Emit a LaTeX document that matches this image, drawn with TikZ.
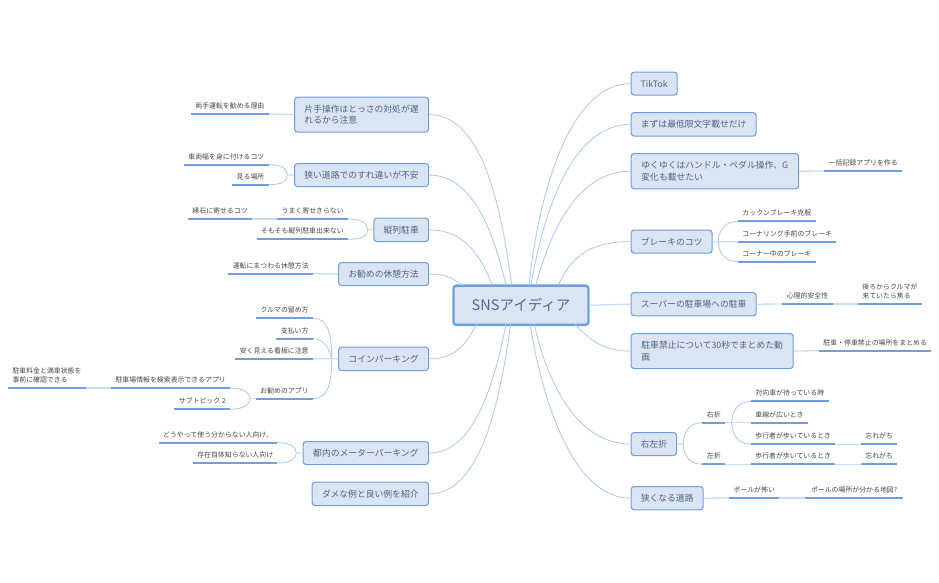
\documentclass[tikz,border=0pt]{standalone}
\usepackage{fontspec}
\setmainfont{Noto Sans CJK JP}
\definecolor{Edge}{HTML}{6F9FDF}
\definecolor{Stem}{HTML}{A9C7EF}
\definecolor{Pale}{HTML}{C8DCF6}
\definecolor{Fill}{HTML}{DAE4F2}
\definecolor{Ink}{HTML}{4F6485}
\definecolor{RootInk}{HTML}{4A6A98}
\definecolor{Gray}{HTML}{454545}
\tikzset{
  rootbox/.style={draw=Edge, fill=Fill, line width=2.4, rounded corners=3, anchor=north west, inner sep=0, xshift=-1, yshift=0.6, text=RootInk, font=\fontsize{14.5}{18}\selectfont},
  topic/.style={draw=Edge, fill=Fill, line width=1.1, rounded corners=3, anchor=north west, inner sep=0, xshift=-0.7, yshift=0.7, align=left, text=Ink, font=\fontsize{8.8}{11.7}\selectfont},
  leaf/.style={anchor=south west, inner sep=0, minimum height=16, align=left, text=Gray, font=\fontsize{6.9}{9}\selectfont},
  stem/.style={draw=Stem, line width=0.8},
  link/.style={draw=Pale, line width=1.3},
  under/.style={draw=Edge, line width=1.7}
}
\begin{document}
\begin{tikzpicture}[x=1pt, y=-1pt]
 \useasboundingbox (0,0) rectangle (939,582);

 %%%%%%%%%% Root %%%%%%%%%%
 \node[rootbox, minimum width=135, minimum height=39.3] (root) at (453.3,285) {SNSアイディア};

 %%%%%%%%%% Points on the root %%%%%%%%%%
 \coordinate (r1) at (511.7,285);
 \coordinate (r2) at (506,285);
 \coordinate (r3) at (492.3,285);
 \coordinate (r4) at (463,285);
 \coordinate (r5) at (476.7,324.3);
 \coordinate (r6) at (506,324.3);
 \coordinate (r7) at (510.7,324.3);
 \coordinate (r8) at (529,285);
 \coordinate (r9) at (531,285);
 \coordinate (r10) at (535.7,285);
 \coordinate (r11) at (558.3,285);
 \coordinate (r13) at (575,324.3);
 \coordinate (r14) at (534.3,324.3);
 \coordinate (r15) at (530,324.3);

 %%%%%%%%%% Points where branches split %%%%%%%%%%
 \coordinate (j1) at (287.3,175);
 \coordinate (j2) at (367.7,229.7);
 \coordinate (j3) at (331.7,358.7);
 \coordinate (j4) at (250,398.7);
 \coordinate (j5) at (296.3,453);
 \coordinate (j6) at (718.3,241.7);
 \coordinate (j7) at (683.3,443.7);
 \coordinate (j8) at (731.7,422.7);

 %%%%%%%%%% Topics left %%%%%%%%%%
 \node[topic, minimum width=134, minimum height=35] (t1) at (294.7,97.3) {片手操作はとっさの対処が遅\\れるから注意};
 \node[topic, minimum width=134, minimum height=23] (t2) at (294.7,163.7) {狭い道路でのすれ違いが不安};
 \node[topic, minimum width=54.7, minimum height=23.4] (t3) at (374,218.3) {縦列駐車};
 \node[topic, minimum width=90, minimum height=23] (t4) at (338.7,262.7) {お勧めの休憩方法};
 \node[topic, minimum width=90, minimum height=23.4] (t5) at (338.7,347.3) {コインパーキング};
 \node[topic, minimum width=125.4, minimum height=23] (t6) at (303.3,441.7) {都内のメーターパーキング};
 \node[topic, minimum width=116.4, minimum height=23.4] (t7) at (312.3,482.3) {ダメな例と良い例を紹介};

 %%%%%%%%%% Topics right %%%%%%%%%%
 \node[topic, minimum width=46, minimum height=23] (t8) at (631.3,72.3) {TikTok};
 \node[topic, minimum width=125, minimum height=23.6] (t9) at (631.3,112.7) {まずは最低限文字載せだけ};
 \node[topic, minimum width=167.4, minimum height=35.3] (t10) at (631.3,153.7) {ゆくゆくはハンドル・ペダル操作、G\\変化も載せたい};
 \node[topic, minimum width=81, minimum height=23] (t11) at (631.3,230.3) {ブレーキのコツ};
 \node[topic, minimum width=125, minimum height=23.3] (t12) at (631.3,292.7) {スーパーの駐車場への駐車};
 \node[topic, minimum width=162, minimum height=35] (t13) at (631.3,333.7) {駐車禁止について30秒でまとめた動\\画};
 \node[topic, minimum width=45.4, minimum height=23] (t14) at (631.3,432.7) {右左折};
 \node[topic, minimum width=72, minimum height=23.3] (t15) at (631.3,486.7) {狭くなる道路};

 %%%%%%%%%% Leaves left %%%%%%%%%%
 \node[leaf, minimum width=77.3] (l1) at (191,114) {両手運転を勧める理由};
 \node[leaf, minimum width=84.3] (l2) at (184,164.7) {車両幅を身に付けるコツ};
 \node[leaf, minimum width=36] (l3) at (232.3,184.7) {見る場所};
 \node[leaf, minimum width=70.4] (l4) at (277.3,219) {うまく寄せきらない};
 \node[leaf, minimum width=63.7] (l5) at (188,219) {縁石に寄せるコツ};
 \node[leaf, minimum width=91] (l6) at (256.7,239.3) {そもそも縦列駐車出来ない};
 \node[leaf, minimum width=84.4] (l7) at (228.3,273.7) {運転にまつわる休憩方法};
 \node[leaf, minimum width=56.7] (l8) at (256,318.3) {クルマの留め方};
 \node[leaf, minimum width=36.4] (l9) at (276.3,338.7) {支払い方};
 \node[leaf, minimum width=77.4] (l10) at (235.3,358.7) {安く見える看板に注意};
 \node[leaf, minimum width=56.7] (l11) at (256,398.7) {お勧めのアプリ};
 \node[leaf, minimum width=119] (l12) at (111,388) {駐車場情報を検索表示できるアプリ};
 \node[leaf, minimum width=77.7, minimum height=25.6] (l13) at (8,388) {駐車料金と満車状態を\\事前に確認できる};
 \node[leaf, minimum width=55.7] (l14) at (174.3,409.3) {サブトピック 2};
 \node[leaf, minimum width=118.3] (l15) at (158.7,442.7) {どうやって使う分からない人向け。};
 \node[leaf, minimum width=84] (l16) at (193,463) {存在自体知らない人向け};

 %%%%%%%%%% Leaves right %%%%%%%%%%
 \node[leaf, minimum width=78] (l17) at (824,171) {一括記録アプリを作る};
 \node[leaf, minimum width=77.3] (l18) at (738,221.3) {カックンブレーキ克服};
 \node[leaf, minimum width=98] (l19) at (738,241.7) {コーナリング手前のブレーキ};
 \node[leaf, minimum width=77.3] (l20) at (738,261.7) {コーナー中のブレーキ};
 \node[leaf, minimum width=50] (l21) at (782.3,304) {心理的安全性};
 \node[leaf, minimum width=64, minimum height=25.6] (l22) at (857.7,304) {後ろからクルマが\\来ていたら焦る};
 \node[leaf, minimum width=112] (l23) at (819,350.7) {駐車・停車禁止の場所をまとめる};
 \node[leaf, minimum width=22.7] (l24) at (702.3,422.7) {右折};
 \node[leaf, minimum width=22.7] (l25) at (702.3,464.3) {左折};
 \node[leaf, minimum width=77.3] (l26) at (751,401.3) {対向車が待っている時};
 \node[leaf, minimum width=56.7] (l27) at (751,422.7) {車線が広いとき};
 \node[leaf, minimum width=84] (l28) at (751,444.3) {歩行者が歩いているとき};
 \node[leaf, minimum width=36] (l29) at (861,444.3) {忘れがち};
 \node[leaf, minimum width=84] (l30) at (751,464.3) {歩行者が歩いているとき};
 \node[leaf, minimum width=36] (l31) at (861,464.3) {忘れがち};
 \node[leaf, minimum width=49.4] (l32) at (729.3,498) {ポールが怖い};
 \node[leaf, minimum width=97.7] (l33) at (805,498) {ポールの場所が分かる地図?};

 %%%%%%%%%% Curves from the root %%%%%%%%%%
 \foreach \i/\a/\b/\c in {1/50/-12/-90, 2/45/-12/-50, 3/35/-12/-30, 4/18/-10/-6, 5/28/-10/18, 6/45/-12/60, 7/50/-12/85}
 {
   \draw[stem] (t\i.east) .. controls +(\a,0) and +(\b,\c) .. (r\i);
 }
 \foreach \i/\a/\b/\c in {8/-60/10/-95, 9/-60/12/-70, 10/-55/14/-50, 11/-45/12/-25, 13/-30/14/14, 14/-55/12/55, 15/-55/14/85}
 {
   \draw[stem] (t\i.west) .. controls +(\a,0) and +(\b,\c) .. (r\i);
 }

 %%%%%%%%%% Curves at the splits %%%%%%%%%%
 \draw[stem] (l2.south east) .. controls +(14,0) and +(0,-6) .. (j1);
 \draw[stem] (l3.south east) .. controls +(14,0) and +(0,6) .. (j1);
 \draw[stem] (l4.south east) .. controls +(14,0) and +(0,-6) .. (j2);
 \draw[stem] (l6.south east) .. controls +(14,0) and +(0,6) .. (j2);
 \draw[stem] (l8.south east) .. controls +(15,0) and +(0,-25) .. (j3);
 \draw[stem] (l9.south east) .. controls +(12,0) and +(-2,-8) .. (j3);
 \draw[stem] (l11.south east) .. controls +(15,0) and +(0,25) .. (j3);
 \draw[stem] (l12.south east) .. controls +(14,0) and +(0,-5) .. (j4);
 \draw[stem] (l14.south east) .. controls +(14,0) and +(0,5) .. (j4);
 \draw[stem] (l15.south east) .. controls +(14,0) and +(0,-5) .. (j5);
 \draw[stem] (l16.south east) .. controls +(14,0) and +(0,5) .. (j5);
 \draw[stem] (l18.south west) .. controls +(-14,0) and +(0,-10) .. (j6);
 \draw[stem] (l20.south west) .. controls +(-14,0) and +(0,10) .. (j6);
 \draw[stem] (l24.south west) .. controls +(-14,0) and +(0,-10) .. (j7);
 \draw[stem] (l25.south west) .. controls +(-14,0) and +(0,10) .. (j7);
 \draw[stem] (l26.south west) .. controls +(-14,0) and +(0,-10) .. (j8);
 \draw[stem] (l28.south west) .. controls +(-14,0) and +(0,10) .. (j8);

 %%%%%%%%%% Straight links %%%%%%%%%%
 \draw[link] (root.east) -- (t12.west);
 \draw[link] (t1.west) -- (l1.south east);
 \draw[link] (t2.west) -- (j1);
 \draw[link] (t3.west) -- (j2);
 \draw[link] (l5.south east) -- (l4.south west);
 \draw[link] (t4.west) -- (l7.south east);
 \draw[link] (t5.west) -- (l10.south east);
 \draw[link] (l13.south east) -- (l12.south west);
 \draw[link] (l11.south west) -- (j4);
 \draw[link] (t6.west) -- (j5);
 \draw[link] (t10.east) -- (l17.south west);
 \draw[link] (t11.east) -- (l19.south west);
 \draw[link] (t12.east) -- (l21.south west);
 \draw[link] (l21.south east) -- (l22.south west);
 \draw[link] (t13.east) -- (l23.south west);
 \draw[link] (t14.east) -- (j7);
 \draw[link] (l24.south east) -- (l27.south west);
 \draw[link] (l28.south east) -- (l29.south west);
 \draw[link] (l25.south east) -- (l30.south west);
 \draw[link] (l30.south east) -- (l31.south west);
 \draw[link] (t15.east) -- (l32.south west);
 \draw[link] (l32.south east) -- (l33.south west);

 %%%%%%%%%% Lines under the leaves %%%%%%%%%%
 \foreach \i in {1,...,33}
 {
   \draw[under] (l\i.south west) -- (l\i.south east);
 }

\end{tikzpicture}
\end{document}
